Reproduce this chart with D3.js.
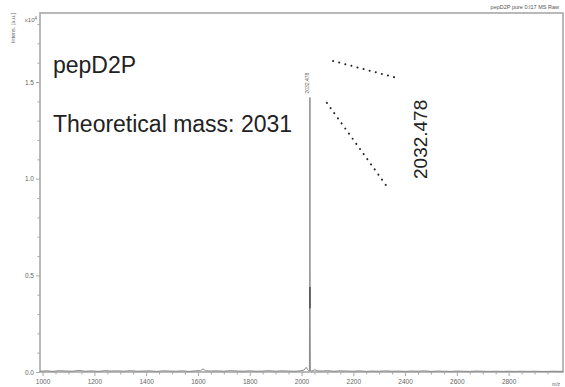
<!DOCTYPE html>
<html>
<head>
<meta charset="utf-8">
<script src="https://cdn.jsdelivr.net/npm/d3@7"></script>
<style>
  html, body { margin: 0; padding: 0; background: #fff; }
  svg { display: block; font-family: Arial, "Liberation Sans", sans-serif; }
</style>
</head>
<body>
<svg id="chart" width="565" height="387"></svg>
<script>
// Spectrum: m/z axis and intensity (x10^4 a.u.)
const sampleTitle = "pepD2P";
const massNote = "Theoretical mass: 2031";
const runLabel = "pepD2P pure 0:I17 MS Raw";
const peakMz = 2032.478;
const peakIntensity = 1.42;

// baseline trace away from the main peak
const baseMz = [990, 1015, 1040, 1065, 1090, 1115, 1140, 1165, 1190, 1215, 1240, 1265, 1290, 1315, 1340,
  1365, 1390, 1415, 1440, 1465, 1490, 1515, 1540, 1565, 1590, 1610, 1620, 1630, 1650, 1675, 1700, 1725,
  1750, 1775, 1800, 1825, 1850, 1875, 1900, 1925, 1950, 1975, 1995, 2010, 2018, 2024, 2028];
const baseInt = [0.004, 0.006, 0.003, 0.007, 0.005, 0.004, 0.008, 0.004, 0.006, 0.003, 0.007, 0.005, 0.006, 0.004, 0.007,
  0.004, 0.005, 0.006, 0.003, 0.006, 0.005, 0.004, 0.006, 0.003, 0.006, 0.007, 0.016, 0.006, 0.005, 0.006, 0.004, 0.007,
  0.005, 0.004, 0.006, 0.004, 0.005, 0.007, 0.004, 0.006, 0.005, 0.004, 0.006, 0.010, 0.024, 0.012, 0.006];
// profile across the main peak
const peakMzPts = [2030.5, 2031.6, 2031.9, peakMz, 2033.0, 2033.3, 2034.2];
const peakIntPts = [0.006, 0.44, 0.33, peakIntensity, 0.44, 0.33, 0.006];
const tailMz = [2036, 2045, 2052, 2060, 2080, 2100, 2125, 2150, 2175, 2200, 2225, 2250, 2275, 2300, 2325, 2350,
  2375, 2400, 2425, 2450, 2475, 2500, 2525, 2550, 2575, 2600, 2625, 2650, 2675, 2700, 2725, 2750, 2775,
  2800, 2825, 2850, 2875, 2900, 2925, 2950, 2975, 3010];
const tailInt = [0.004, 0.008, 0.012, 0.006, 0.005, 0.007, 0.004, 0.006, 0.005, 0.004, 0.006, 0.003, 0.005, 0.004, 0.006, 0.004,
  0.005, 0.003, 0.005, 0.004, 0.006, 0.003, 0.005, 0.004, 0.003, 0.005, 0.004, 0.003, 0.005, 0.004, 0.003, 0.004, 0.003,
  0.004, 0.003, 0.004, 0.003, 0.004, 0.003, 0.003, 0.004, 0.003];

const xTicks = [1000, 1200, 1400, 1600, 1800, 2000, 2200, 2400, 2600, 2800];
const yTicks = [0.0, 0.5, 1.0, 1.5];

// dotted annotation strokes, in data units [m/z, intensity]
const guideA = [[2122, 1.609], [2369, 1.521]];
const guideB = [[2098, 1.392], [2326, 0.967]];

const svg = d3.select("#chart");
const plotL = 40, plotR = 563, plotT = 13, plotB = 372;

const x = d3.scaleLinear().domain([990, 3010]).range([plotL, plotR]);
const y = d3.scaleLinear().domain([0, 1.857]).range([plotB, plotT]);

const axisColor = "#a8a8a8";
const labelColor = "#666";

// frame
svg.append("rect")
  .attr("x", plotL).attr("y", plotT)
  .attr("width", plotR - plotL).attr("height", plotB - plotT)
  .attr("fill", "none").attr("stroke", axisColor).attr("stroke-width", 1.6);

// x axis
const xAxis = d3.axisBottom(x).tickValues(xTicks).tickSize(4).tickPadding(3.5).tickFormat(d3.format("d"));
const gx = svg.append("g").attr("transform", `translate(0,${plotB})`).call(xAxis);
gx.select(".domain").remove();
gx.selectAll("line").attr("stroke", axisColor);
gx.selectAll("text").attr("fill", labelColor).attr("font-size", 6.5);
const xMinor = d3.axisBottom(x).tickValues(d3.range(1050, 3001, 50).filter(v => v % 200 !== 0))
  .tickSize(2.5).tickFormat("");
const gxm = svg.append("g").attr("transform", `translate(0,${plotB})`).call(xMinor);
gxm.select(".domain").remove();
gxm.selectAll("line").attr("stroke", axisColor);

// y axis
const yAxis = d3.axisLeft(y).tickValues(yTicks).tickSize(4).tickPadding(2).tickFormat(d3.format(".1f"));
const gy = svg.append("g").attr("transform", `translate(${plotL},0)`).call(yAxis);
gy.select(".domain").remove();
gy.selectAll("line").attr("stroke", axisColor);
gy.selectAll("text").attr("fill", labelColor).attr("font-size", 6.5);
const yMinor = d3.axisLeft(y).tickValues(d3.range(0.1, 1.85, 0.1).filter(v => Math.abs(v * 2 - Math.round(v * 2)) > 1e-6))
  .tickSize(2.5).tickFormat("");
const gym = svg.append("g").attr("transform", `translate(${plotL},0)`).call(yMinor);
gym.select(".domain").remove();
gym.selectAll("line").attr("stroke", axisColor);

// axis titles
svg.append("text")
  .attr("transform", "translate(15,28) rotate(-90)")
  .attr("text-anchor", "middle").attr("font-size", 5.5).attr("fill", labelColor)
  .text("Intens. [a.u.]");
const exp = svg.append("text")
  .attr("x", 37).attr("y", 22).attr("text-anchor", "end")
  .attr("font-size", 6).attr("fill", labelColor);
exp.append("tspan").text("x10");
exp.append("tspan").attr("dy", -2.5).attr("font-size", 4.5).text("4");
svg.append("text")
  .attr("x", 556).attr("y", 386).attr("text-anchor", "middle")
  .attr("font-size", 5).attr("fill", labelColor).text("m/z");
svg.append("text")
  .attr("x", 559).attr("y", 9).attr("text-anchor", "end")
  .attr("font-size", 5.5).attr("fill", "#555").text(runLabel);

// spectrum trace
const trace = [];
baseMz.forEach((m, i) => trace.push([m, baseInt[i]]));
peakMzPts.forEach((m, i) => trace.push([m, peakIntPts[i]]));
tailMz.forEach((m, i) => trace.push([m, tailInt[i]]));
const line = d3.line().x(d => x(d[0])).y(d => y(d[1]));
svg.append("path")
  .datum(trace)
  .attr("d", line)
  .attr("fill", "none").attr("stroke", "#8a8a8a").attr("stroke-width", 1);

// darker band near the peak base from the overlapping profile strokes
svg.append("line")
  .attr("x1", x(peakMz)).attr("x2", x(peakMz))
  .attr("y1", y(0.44)).attr("y2", y(0.33))
  .attr("stroke", "#555").attr("stroke-width", 1.6);

// small peak label
svg.append("text")
  .attr("transform", `translate(${x(peakMz) - 1},${y(peakIntensity) - 4}) rotate(-90)`)
  .attr("font-size", 5).attr("fill", "#666")
  .text(d3.format(".3f")(peakMz));

// dotted guides
[guideA, guideB].forEach(g => {
  svg.append("line")
    .attr("x1", x(g[0][0])).attr("y1", y(g[0][1]))
    .attr("x2", x(g[1][0])).attr("y2", y(g[1][1]))
    .attr("stroke", "#222").attr("stroke-width", 2)
    .attr("stroke-linecap", "round").attr("stroke-dasharray", "0.1 6.2");
});

// big annotation
svg.append("text")
  .attr("transform", "translate(427,179) rotate(-90)")
  .attr("font-size", 19).attr("fill", "#222")
  .text(d3.format(".3f")(peakMz));

// sample notes
svg.append("text")
  .attr("x", 53).attr("y", 73).attr("font-size", 23).attr("fill", "#222").text(sampleTitle);
svg.append("text")
  .attr("x", 53).attr("y", 132).attr("font-size", 23).attr("fill", "#222").text(massNote);
</script>
</body>
</html>
